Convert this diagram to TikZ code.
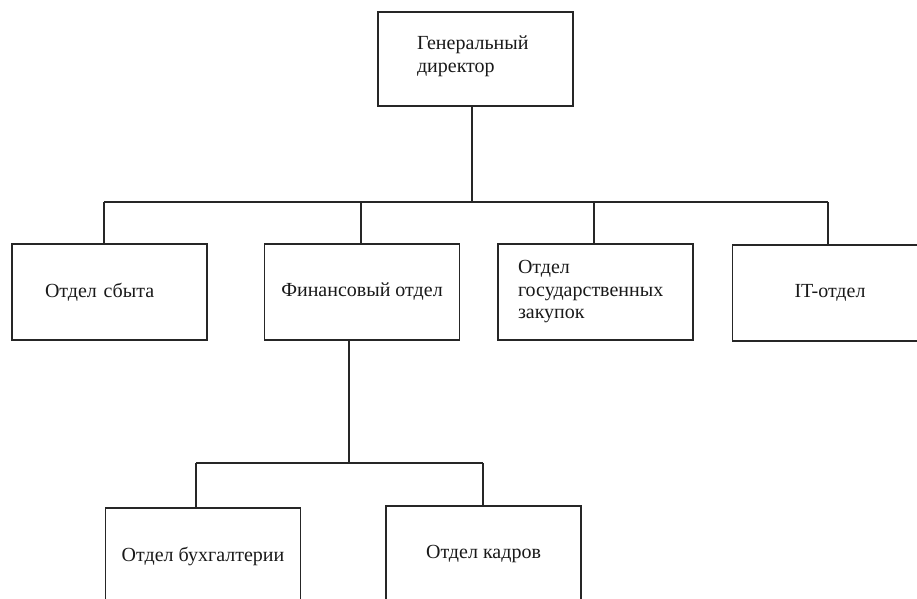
\documentclass[tikz,border=0pt]{standalone}
\usepackage{fontspec}
\setmainfont{Liberation Serif}
\begin{document}
\begin{tikzpicture}[x=1pt,y=-1pt,
  box/.style={draw=black!85,line width=1.4pt,minimum width=195pt,minimum height=96pt,
    inner sep=0pt,font=\fontsize{20}{22.5}\selectfont,text=black!90},
  lbox/.style={box,align=left},
  conn/.style={draw=black!85,line width=1.4pt}]
\useasboundingbox (0,0) rectangle (917,598);
\node[lbox,inner xsep=39pt,text width=117pt,minimum height=94pt] (gd) at (475.5,59) {Генеральный\\директор\\[-12.5pt]\mbox{}};
\node[lbox,inner xsep=33pt,text width=129pt] (b1) at (109.5,292) {Отдел сбыта};
\node[box,align=center] (b2) at (362,292) {Финансовый отдел};
\node[lbox,inner xsep=20pt,text width=155pt] (b3) at (595.5,292) {Отдел\\государственных\\закупок};
\node[box,align=center] (b4) at (830,293) {IT-отдел};
\node[box,align=center] (b5) at (203,556) {Отдел бухгалтерии};
\node[box,align=center] (b6) at (483.5,554) {Отдел кадров};
\coordinate (busL) at (104,202);
\coordinate (busR) at (828,202);
\coordinate (top) at (472,106);
\coordinate (fin) at (349,340);
\coordinate (subL) at (196,463);
\coordinate (subR) at (483,463);
\draw[conn] (top) -- (top |- busL);
\draw[conn] (busL) -- (busR);
\draw[conn] (busL) -- (busL |- b1.north);
\draw[conn] (361,202) -- (361,244);
\draw[conn] (594,202) -- (594,244);
\draw[conn] (busR) -- (busR |- b4.north);
\draw[conn] (fin) -- (fin |- subL);
\draw[conn] (subL) -- (subR);
\draw[conn] (subL) -- (subL |- b5.north);
\draw[conn] (subR) -- (subR |- b6.north);
\end{tikzpicture}
\end{document}
